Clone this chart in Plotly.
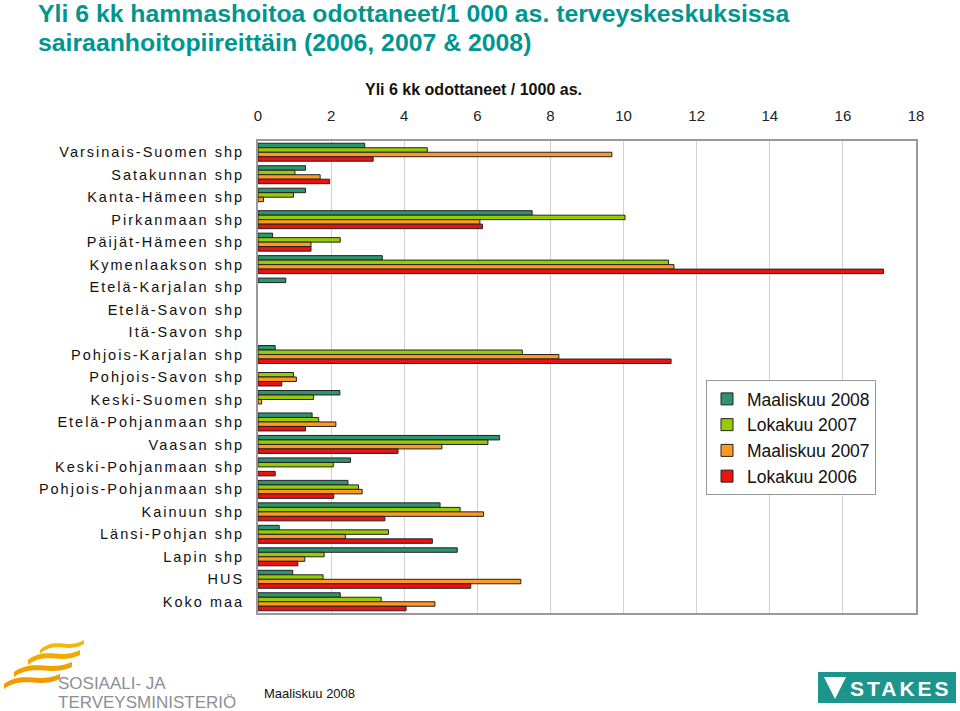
import plotly.graph_objects as go

categories = ["Varsinais-Suomen shp", "Satakunnan shp", "Kanta-Hämeen shp", "Pirkanmaan shp",
              "Päijät-Hämeen shp", "Kymenlaakson shp", "Etelä-Karjalan shp", "Etelä-Savon shp",
              "Itä-Savon shp", "Pohjois-Karjalan shp", "Pohjois-Savon shp", "Keski-Suomen shp",
              "Etelä-Pohjanmaan shp", "Vaasan shp", "Keski-Pohjanmaan shp", "Pohjois-Pohjanmaan shp",
              "Kainuun shp", "Länsi-Pohjan shp", "Lapin shp", "HUS", "Koko maa"]

maaliskuu_2008 = [2.92, 1.30, 1.30, 7.50, 0.40, 3.40, 0.76, None, None, 0.47, None, 2.24,
                  1.48, 6.61, 2.53, 2.46, 4.98, 0.58, 5.45, 0.95, 2.25]
lokakuu_2007 = [4.63, 1.01, 0.97, 10.04, 2.25, 11.23, None, None, None, 7.23, 0.97, 1.52,
                1.66, 6.29, 2.06, 2.75, 5.53, 3.57, 1.81, 1.78, 3.37]
maaliskuu_2007 = [9.68, 1.70, 0.15, 6.07, 1.45, 11.38, None, None, None, 8.23, 1.05, 0.10,
                  2.13, 5.03, None, 2.85, 6.17, 2.39, 1.28, 7.19, 4.84]
lokakuu_2006 = [3.15, 1.96, None, 6.14, 1.45, 17.11, None, None, None, 11.30, 0.65, None,
                1.30, 3.83, 0.47, 2.07, 3.47, 4.77, 1.09, 5.82, 4.05]

series_names = ["Maaliskuu 2008", "Lokakuu 2007", "Maaliskuu 2007", "Lokakuu 2006"]
series_values = [maaliskuu_2008, lokakuu_2007, maaliskuu_2007, lokakuu_2006]
colors = ["#2E9470", "#99CC00", "#FF9922", "#EE1111"]

x_ticks = list(range(0, 20, 2))

fig = go.Figure()
for name, vals, col in zip(series_names, series_values, colors):
    fig.add_trace(go.Bar(
        y=categories, x=vals, name=name, orientation="h",
        marker=dict(color=col, line=dict(color="#222222", width=1)),
    ))

# body margin is removed in the page, so figure coordinates = reference coordinates
W, H = 960, 711
L, T = 258, 141
R = W - 916
B = H - 613
pw, ph = W - L - R, H - T - B

def px(x):
    return (x - L) / pw

def py(y):
    return (H - B - y) / ph

fig.update_layout(
    width=W, height=H,
    margin=dict(l=L, r=R, t=T, b=B, pad=0),
    paper_bgcolor="white", plot_bgcolor="white",
    barmode="group", bargap=0.2, bargroupgap=0,
    font=dict(family="Liberation Sans, Arial, sans-serif", color="#111111"),
    xaxis=dict(side="top", range=[0, 18], tickvals=x_ticks, ticks="",
               showgrid=True, gridcolor="#D0D0D0", gridwidth=1,
               showline=True, linecolor="#999999", linewidth=2, mirror=True,
               tickfont=dict(size=15, color="#222222"), zeroline=False,
               ticklabelstandoff=12),
    yaxis=dict(autorange="reversed", tickfont=dict(size=14.5, color="#111111"), ticks="",
               showline=True, linecolor="#999999", linewidth=2, mirror=True,
               ticklabelstandoff=9),
    legend=dict(x=px(706), y=py(380), xanchor="left", yanchor="top",
                bgcolor="white", bordercolor="#999999", borderwidth=1,
                font=dict(size=17.5), tracegroupgap=0),
    showlegend=True,
)

annotations = [
    dict(text="<b>Yli 6 kk hammashoitoa odottaneet/1 000 as. terveyskeskuksissa</b>",
         x=px(36), y=py(14), xanchor="left", yanchor="middle",
         font=dict(size=24.8, color="#00968F")),
    dict(text="<b>sairaanhoitopiireittäin (2006, 2007 & 2008)</b>",
         x=px(36), y=py(42), xanchor="left", yanchor="middle",
         font=dict(size=24.8, color="#00968F")),
    dict(text="<b>Yli 6 kk odottaneet / 1000 as.</b>",
         x=px(473), y=py(90), xanchor="center", yanchor="middle",
         font=dict(size=16, color="#111111")),
    dict(text="Maaliskuu 2008", x=px(262), y=py(693), xanchor="left", yanchor="middle",
         font=dict(size=13, color="#111111")),
    dict(text="SOSIAALI- JA", x=px(56), y=py(683), xanchor="left", yanchor="middle",
         font=dict(size=17, color="#8A8F96")),
    dict(text="TERVEYSMINISTERIÖ", x=px(56), y=py(702), xanchor="left", yanchor="middle",
         font=dict(size=17, color="#8A8F96")),
    dict(text="<b>STAKES</b>", x=px(901), y=py(688), xanchor="center", yanchor="middle",
         font=dict(size=21, color="white")),
]
for a in annotations:
    a.update(xref="paper", yref="paper", showarrow=False)
fig.update_layout(annotations=annotations)

# STAKES logo box
shapes = [dict(type="rect", xref="paper", yref="paper",
               x0=px(818), x1=px(956), y0=py(703), y1=py(672),
               fillcolor="#1E958C", line=dict(width=0), layer="below")]
tri = "M {},{} L {},{} L {},{} Z".format(px(824), py(677), px(846), py(677), px(835), py(699))
shapes.append(dict(type="path", xref="paper", yref="paper", path=tri,
                   fillcolor="white", line=dict(width=0)))

# Yellow wave logo
def wave(x0, y0, x1, y1, thick, col):
    p = "M {},{} C {},{} {},{} {},{} L {},{} C {},{} {},{} {},{} Z".format(
        px(x0), py(y0),
        px(x0 + (x1 - x0) * 0.35), py(y0 - 14), px(x0 + (x1 - x0) * 0.6), py(y1 + 10), px(x1), py(y1),
        px(x1), py(y1 + thick),
        px(x0 + (x1 - x0) * 0.6), py(y1 + 10 + thick), px(x0 + (x1 - x0) * 0.35), py(y0 - 14 + thick),
        px(x0), py(y0 + thick))
    return dict(type="path", xref="paper", yref="paper", path=p, fillcolor=col, line=dict(width=0))

shapes.append(wave(40, 650, 84, 640, 4, "#F5B800"))
shapes.append(wave(28, 660, 80, 650, 5, "#F2A900"))
shapes.append(wave(14, 672, 72, 662, 5, "#F0A000"))
shapes.append(wave(4, 684, 60, 674, 5, "#EE9A00"))
fig.update_layout(shapes=shapes)

post = """
document.body.style.margin = '0';
document.body.style.padding = '0';
var gd = document.getElementsByClassName('plotly-graph-div')[0];
function spaceTicks(){
  document.querySelectorAll('.ytick text').forEach(function(t){ t.style.letterSpacing='2px'; });
  document.querySelectorAll('.annotation-text').forEach(function(t){
    if (t.textContent === 'STAKES') { t.style.letterSpacing='3px'; }
  });
}
spaceTicks();
if (gd && gd.on) { gd.on('plotly_afterplot', spaceTicks); }
"""
fig.write_html("out.html", post_script=post, config={"displayModeBar": False})
